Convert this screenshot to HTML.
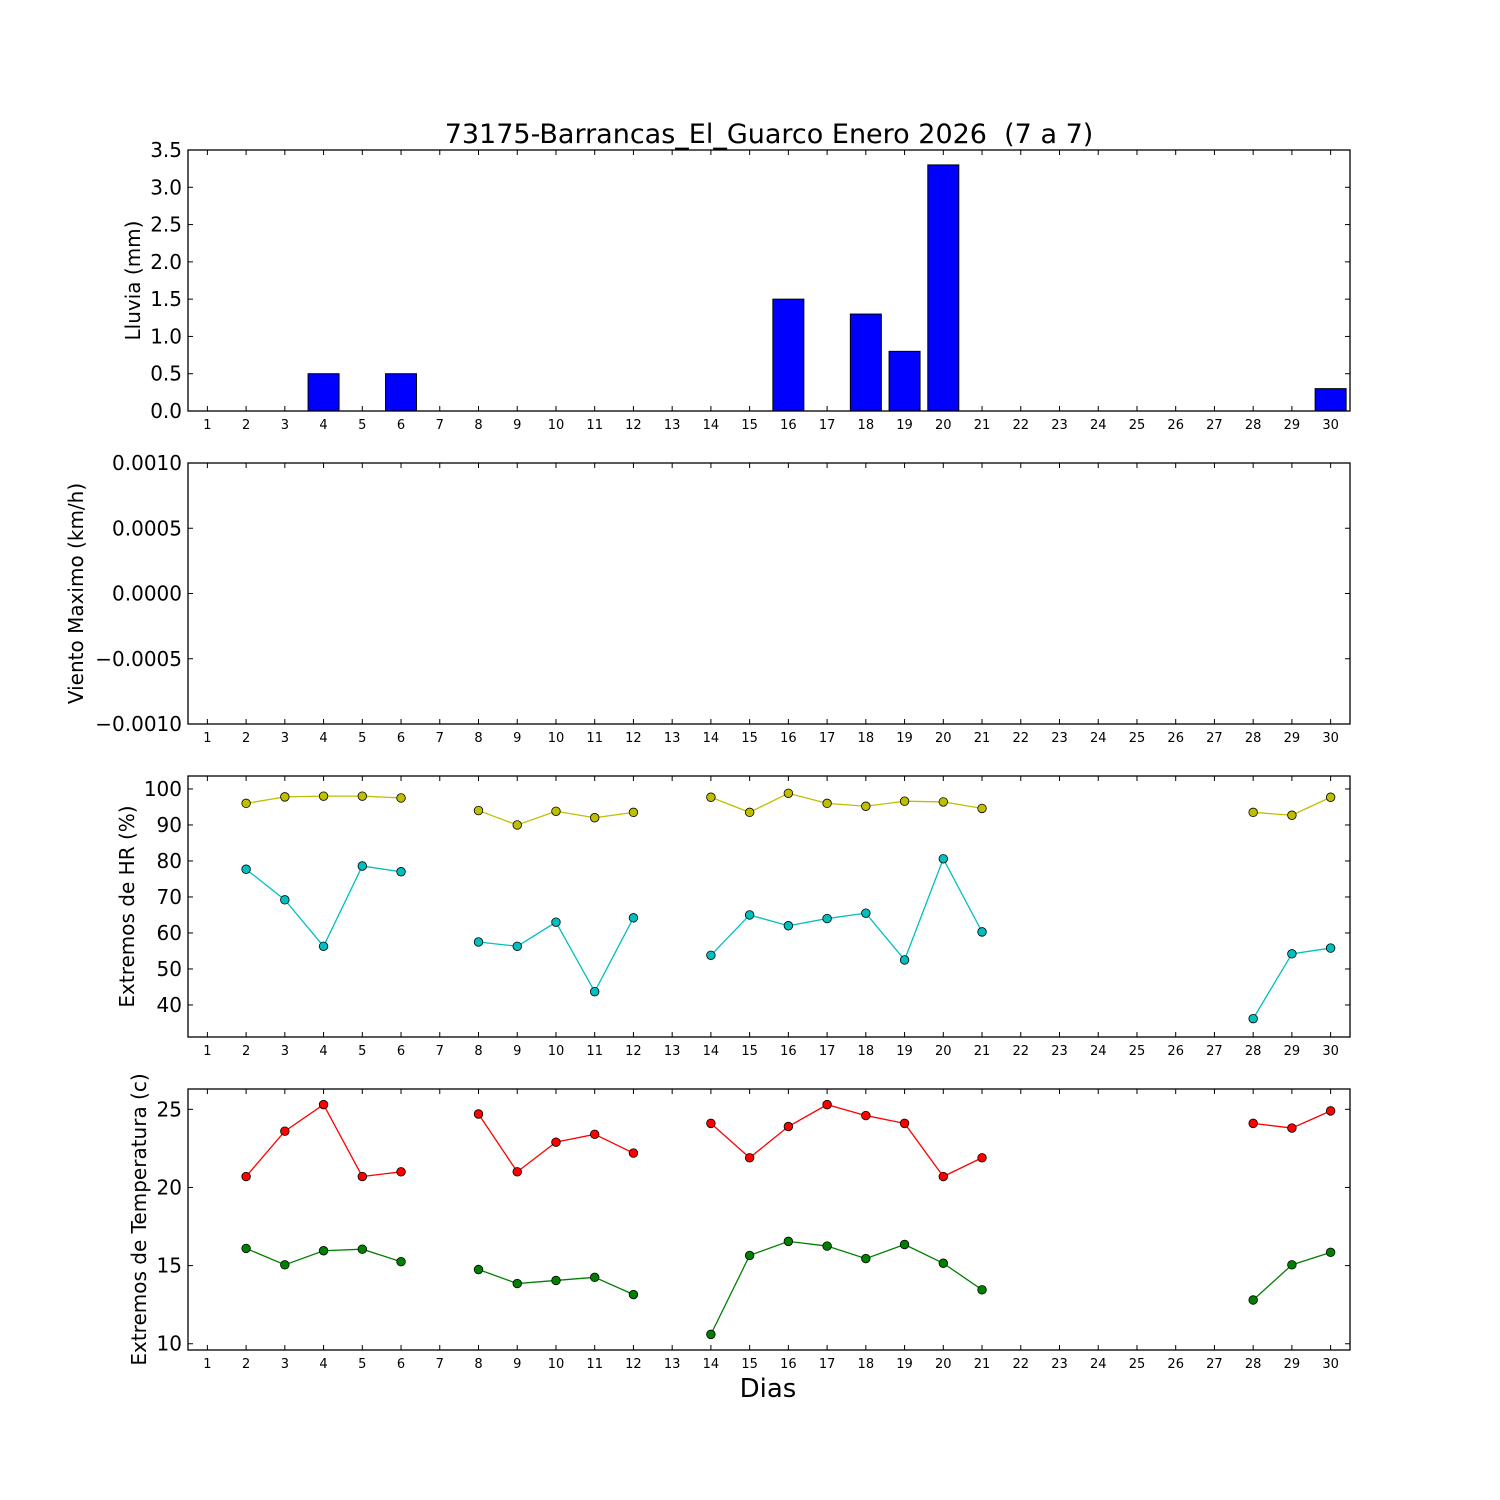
<!DOCTYPE html>
<html><head><meta charset="utf-8"><style>
html,body{margin:0;padding:0;background:#fff;}
svg{display:block;font-family:"DejaVu Sans","Liberation Sans",sans-serif;}
</style></head><body>
<svg id="chart" width="1500" height="1500" viewBox="0 0 1500 1500">
<rect width="1500" height="1500" fill="#fff"/>
<text x="769" y="143" font-size="27" text-anchor="middle">73175-Barrancas_El_Guarco Enero 2026 &#160;(7 a 7)</text>
<text x="768" y="1397" font-size="26" text-anchor="middle">Dias</text>
</svg>
<script>
const days = Array.from({length:30},(_,i)=>i+1);
const rainDays = [2,3,4,5,6,8,9,10,11,12,13,14,15,16,17,18,19,20,21,22,23,24,25,26,27,28,29,30];
const rainValues = [0,0,0.5,0,0.5,0,0,0,0,0,0,0,0,1.5,0,1.3,0.8,3.3,0,0,0,0,0,0,0,0,0,0.3];
const rainTicks = [0,0.5,1,1.5,2,2.5,3,3.5];
const rainTickLabels = ["0.0","0.5","1.0","1.5","2.0","2.5","3.0","3.5"];
const windTicks = [-0.001,-0.0005,0,0.0005,0.001];
const windTickLabels = ["\u22120.0010","\u22120.0005","0.0000","0.0005","0.0010"];
const hrDays = [2,3,4,5,6,8,9,10,11,12,14,15,16,17,18,19,20,21,28,29,30];
const hrMax = [96,97.8,98,98,97.5,94,90,93.8,92,93.5,97.7,93.5,98.8,96,95.2,96.6,96.4,94.6,93.5,92.7,97.7];
const hrMin = [77.7,69.2,56.3,78.6,77,57.5,56.3,63,43.7,64.2,53.8,65,62,64,65.5,52.5,80.6,60.3,36.2,54.2,55.8];
const hrTicks = [40,50,60,70,80,90,100];
const tDays = [2,3,4,5,6,8,9,10,11,12,14,15,16,17,18,19,20,21,28,29,30];
const tMax = [20.7,23.6,25.3,20.7,21.0,24.7,21.0,22.9,23.4,22.2,24.1,21.9,23.9,25.3,24.6,24.1,20.7,21.9,24.1,23.8,24.9];
const tMin = [16.1,15.05,15.95,16.05,15.25,14.75,13.85,14.05,14.25,13.15,10.6,15.65,16.55,16.25,15.45,16.35,15.15,13.45,12.8,15.05,15.85];
const tTicks = [10,15,20,25];

const NS="http://www.w3.org/2000/svg";
const svg=document.getElementById('chart');
const X0=188,X1=1350;
function xs(d){return X0+(d-0.5)*(X1-X0)/30;}
function mk(tag,attrs,parent){const e=document.createElementNS(NS,tag);for(const k in attrs)e.setAttribute(k,attrs[k]);(parent||svg).appendChild(e);return e;}

function panel(name,top,bot,ymin,ymax,ticks,labels,ylabel,ylx){
  const g=mk('g',{});
  
  
  const ys=v=>bot-(v-ymin)*(bot-top)/(ymax-ymin);
  days.forEach(d=>{
    const x=xs(d);
    mk('line',{x1:x,x2:x,y1:bot,y2:bot-5,stroke:'#000','stroke-width':1},g);
    mk('line',{x1:x,x2:x,y1:top,y2:top+5,stroke:'#000','stroke-width':1},g);
    const t=mk('text',{x:x,y:bot+18,'font-size':13,'text-anchor':'middle'},g);
    t.textContent=d;
    
    
  });
  ticks.forEach((v,i)=>{
    const y=ys(v);
    mk('line',{x1:X0,x2:X0+5,y1:y,y2:y,stroke:'#000','stroke-width':1},g);
    mk('line',{x1:X1,x2:X1-5,y1:y,y2:y,stroke:'#000','stroke-width':1},g);
    const t=mk('text',{x:182,y:y+7,'font-size':20,'text-anchor':'end'},g);
    t.textContent=labels?labels[i]:String(v);
    
    
  });
  const yl=mk('text',{x:ylx,y:(top+bot)/2,'font-size':20,'text-anchor':'middle',transform:`rotate(-90 ${ylx} ${(top+bot)/2})`},g);
  yl.textContent=ylabel;
  
  
  return {g,ys,top,bot};
}
function frame(p){
  const r=mk('rect',{x:X0,y:p.top,width:X1-X0,height:p.bot-p.top,fill:'none',stroke:'#000','stroke-width':1.3},p.g);
  
  
}
function series(p,ds,vals,color,name){
  let seg=[];const segs=[];
  ds.forEach((d,i)=>{
    if(i>0&&d!==ds[i-1]+1){segs.push(seg);seg=[];}
    seg.push([xs(d),p.ys(vals[i])]);
  });
  segs.push(seg);
  segs.forEach(s=>{
    const l=mk('polyline',{points:s.map(q=>q.join(',')).join(' '),fill:'none',stroke:color,'stroke-width':1.3},p.g);
    
    
  });
  ds.forEach((d,i)=>{
    const c=mk('circle',{cx:xs(d),cy:p.ys(vals[i]),r:4.3,fill:color,stroke:'#000','stroke-width':0.8},p.g);
    
    
  });
}

const p1=panel('rain-panel',150,411,0,3.5,rainTicks,rainTickLabels,'Lluvia (mm)',140);
rainDays.forEach((d,i)=>{
  const w=(X1-X0)/30*0.8;
  const y=p1.ys(rainValues[i]);
  const b=mk('rect',{x:xs(d)-w/2,y:y,width:w,height:p1.bot-y,fill:'#0000ff',stroke:'#000','stroke-width':1},p1.g);
  
  
});
frame(p1);

const p2=panel('wind-panel',463,724,-0.001,0.001,windTicks,windTickLabels,'Viento Maximo (km/h)',83);
frame(p2);

const p3=panel('humidity-panel',776,1037,31.1,103.6,hrTicks,null,'Extremos de HR (%)',134);
series(p3,hrDays,hrMax,'#bfbf00','hr-max');
series(p3,hrDays,hrMin,'#00bfbf','hr-min');
frame(p3);

const p4=panel('temperature-panel',1089,1350,9.6,26.3,tTicks,null,'Extremos de Temperatura (c)',146);
series(p4,tDays,tMax,'#ff0000','temp-max');
series(p4,tDays,tMin,'#008000','temp-min');
frame(p4);
</script>
</body></html>
